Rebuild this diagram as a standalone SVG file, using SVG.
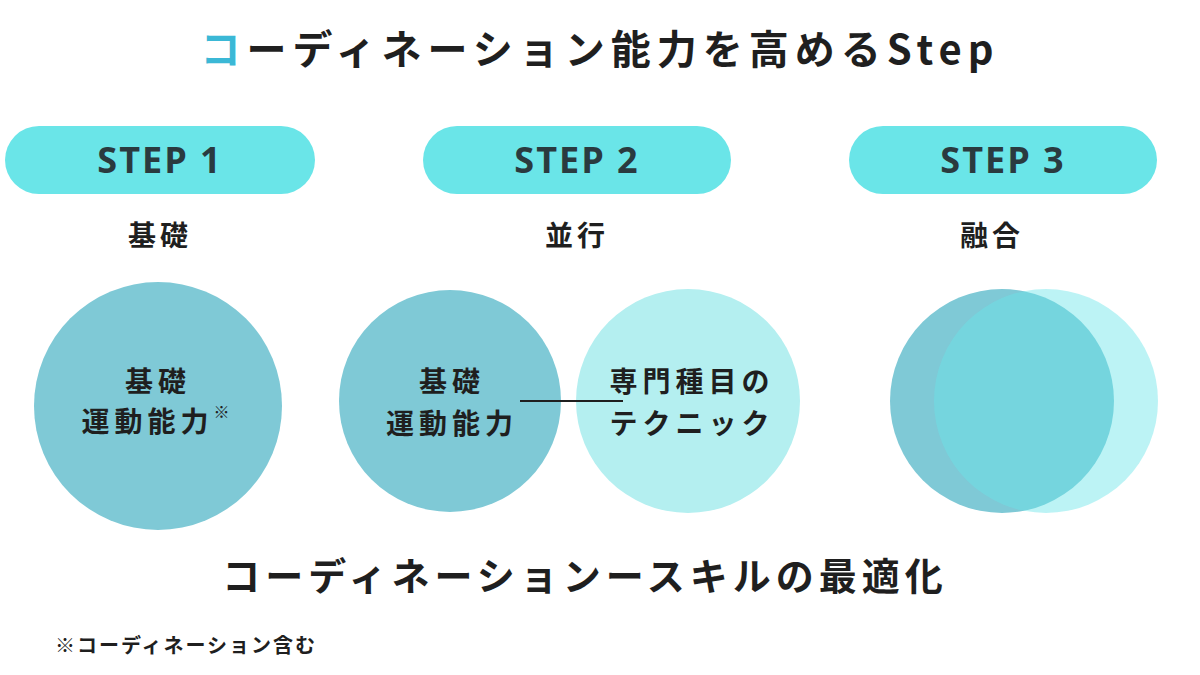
<svg xmlns="http://www.w3.org/2000/svg" width="1200" height="675" viewBox="0 0 1200 675">
<style>
text{font-family:"Noto Sans CJK JP","Noto Sans",sans-serif;font-weight:700;fill:#1f1f1f;text-anchor:middle}
.pill{fill:#6ae5e8}
.pt{font-size:36px;fill:#2a3a3f;font-family:"Open Sans","Noto Sans",sans-serif;letter-spacing:2px}
.sub{font-size:28px;letter-spacing:4px}
.in{font-size:28px;letter-spacing:5px}
.dark{fill:#7fc9d6}
.light{fill:#b4eff0}
</style>
<rect width="1200" height="675" fill="#fff"/>
<text x="600" y="64" font-size="40" letter-spacing="6"><tspan fill="#3bb8d6">コ</tspan>ーディネーション能力を高めるStep</text>
<g id="step1">
<rect class="pill" x="5" y="126" width="310" height="68" rx="34"/>
<text class="pt" x="160" y="173">STEP 1</text>
<text class="sub" x="160" y="246">基礎</text>
<circle class="dark" cx="158" cy="406" r="124"/>
<text class="in" x="158" y="392">基礎</text>
<text class="in" x="158" y="432">運動能力<tspan font-size="16" dy="-14">※</tspan></text>
</g>
<g id="step2">
<rect class="pill" x="423" y="126" width="308" height="68" rx="34"/>
<text class="pt" x="577" y="173">STEP 2</text>
<text class="sub" x="577" y="246">並行</text>
<circle class="dark" cx="450" cy="401" r="111"/>
<circle class="light" cx="688" cy="401" r="112"/>
<text class="in" x="452" y="392">基礎</text>
<text class="in" x="452" y="434">運動能力</text>
<text class="in" x="692" y="392">専門種目の</text>
<text class="in" x="692" y="434">テクニック</text>
</g>
<g id="step3">
<rect class="pill" x="849" y="126" width="308" height="68" rx="34"/>
<text class="pt" x="1003" y="173">STEP 3</text>
<text class="sub" x="992" y="246">融合</text>
<circle class="dark" cx="1002" cy="401" r="112"/>
<circle fill="#6ae5e8" fill-opacity="0.45" cx="1046" cy="401" r="112"/>
</g>
<g id="connectors">
<line x1="520" y1="401" x2="623" y2="401" stroke="#1f1f1f" stroke-width="2"/>
</g>
<text x="585" y="590" font-size="38" letter-spacing="5">コーディネーションースキルの最適化</text>
<text x="186" y="653" font-size="20" letter-spacing="2">※コーディネーション含む</text>
</svg>
